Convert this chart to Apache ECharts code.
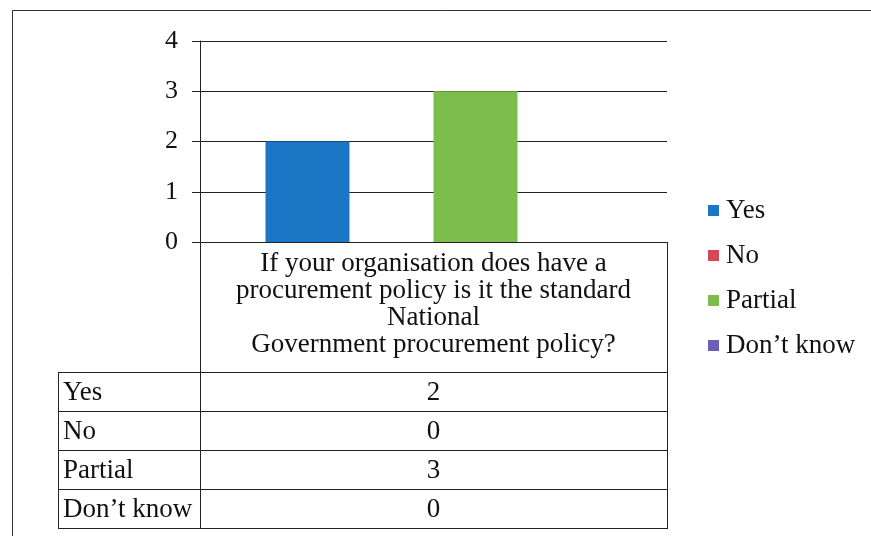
<!DOCTYPE html>
<html>
<head>
<meta charset="utf-8">
<style>
    html, body { margin: 0; padding: 0; background: #fff; }
    #chart { width: 871px; height: 536px; }
</style>
</head>
<body>
<div id="chart"></div>
<script src="https://cdn.jsdelivr.net/npm/echarts@6/dist/echarts.min.js"></script>
<script type="text/javascript">
    // data
    var categories = ['If your organisation does have a\nprocurement policy is it the standard\nNational\nGovernment procurement policy?'];
    var seriesNames = ['Yes', 'No', 'Partial', "Don\u2019t know"];
    var yesValues = [2];
    var noValues = [0];
    var partialValues = [3];
    var dontKnowValues = [0];
    var yTicks = [0, 1, 2, 3, 4];

    var colors = ['#1b77c6', '#d6475a', '#7dbd4d', '#6a60b6'];
    var font = '"Liberation Serif", "Times New Roman", Tinos, "DejaVu Serif", serif';

    // layout (pixels)
    var plotLeft = 200, plotRight = 667, plotTop = 41, plotBottom = 242;
    var tableLeft = 58, tableTop = 372, rowH = 39;

    var allValues = [yesValues, noValues, partialValues, dontKnowValues];

    var series = seriesNames.map(function (name, i) {
        return {
            name: name,
            type: 'bar',
            data: allValues[i],
            barWidth: 84,
            barGap: '0%',
            itemStyle: { color: colors[i] }
        };
    });

    // data table under the axis
    var graphics = [];
    function line(x1, y1, x2, y2) {
        graphics.push({
            type: 'line',
            shape: { x1: x1, y1: y1, x2: x2, y2: y2 },
            style: { stroke: '#222', lineWidth: 1 },
            z: 10
        });
    }
    var tableBottom = tableTop + rowH * seriesNames.length;
    line(plotLeft + 0.5, plotBottom, plotLeft + 0.5, tableBottom);
    line(plotRight + 0.5, plotBottom, plotRight + 0.5, tableBottom);
    line(tableLeft + 0.5, tableTop, tableLeft + 0.5, tableBottom);
    for (var r = 0; r <= seriesNames.length; r++) {
        var yy = tableTop + r * rowH + 0.5;
        line(tableLeft, yy, plotRight + 1, yy);
    }
    seriesNames.forEach(function (name, i) {
        var cy = tableTop + i * rowH + rowH / 2 + 1;
        graphics.push({
            type: 'text', x: tableLeft + 5, y: cy, z: 10,
            style: { text: name, fontFamily: font, fontSize: 27, fill: '#111', verticalAlign: 'middle', align: 'left' }
        });
        graphics.push({
            type: 'text', x: (plotLeft + plotRight) / 2, y: cy, z: 10,
            style: { text: String(allValues[i][0]), fontFamily: font, fontSize: 27, fill: '#111', verticalAlign: 'middle', align: 'center' }
        });
    });
    // outer frame
    graphics.push({
        type: 'rect',
        shape: { x: 12.5, y: 10.5, width: 900, height: 600 },
        style: { fill: null, stroke: '#333', lineWidth: 1 }
    });

    var myChart = echarts.init(document.getElementById('chart'));
    var option = {
        backgroundColor: '#fff',
        animation: false,
        textStyle: { fontFamily: font },
        grid: {
            left: plotLeft,
            right: 871 - plotRight,
            top: plotTop,
            bottom: 536 - plotBottom
        },
        legend: {
            orient: 'vertical',
            left: 708,
            top: 197,
            padding: 0,
            itemWidth: 11,
            itemHeight: 11,
            itemGap: 18,
            icon: 'rect',
            data: seriesNames,
            textStyle: { fontFamily: font, fontSize: 27, lineHeight: 27, color: '#111', padding: [0, 0, 0, 2] }
        },
        xAxis: {
            type: 'category',
            data: categories,
            axisLine: { lineStyle: { color: '#222', width: 1 } },
            axisTick: { show: false },
            axisLabel: {
                interval: 0,
                margin: 8,
                fontFamily: font,
                fontSize: 27,
                lineHeight: 27,
                color: '#111'
            }
        },
        yAxis: {
            type: 'value',
            min: yTicks[0],
            max: yTicks[yTicks.length - 1],
            interval: 1,
            axisLine: { show: true, lineStyle: { color: '#222', width: 1 } },
            axisTick: { show: true, length: 8, lineStyle: { color: '#222' } },
            axisLabel: { margin: 22, fontFamily: font, fontSize: 26, color: '#111' },
            splitLine: { lineStyle: { color: '#222', width: 1 } }
        },
        graphic: graphics,
        series: series
    };
    myChart.setOption(option);
</script>
</body>
</html>
